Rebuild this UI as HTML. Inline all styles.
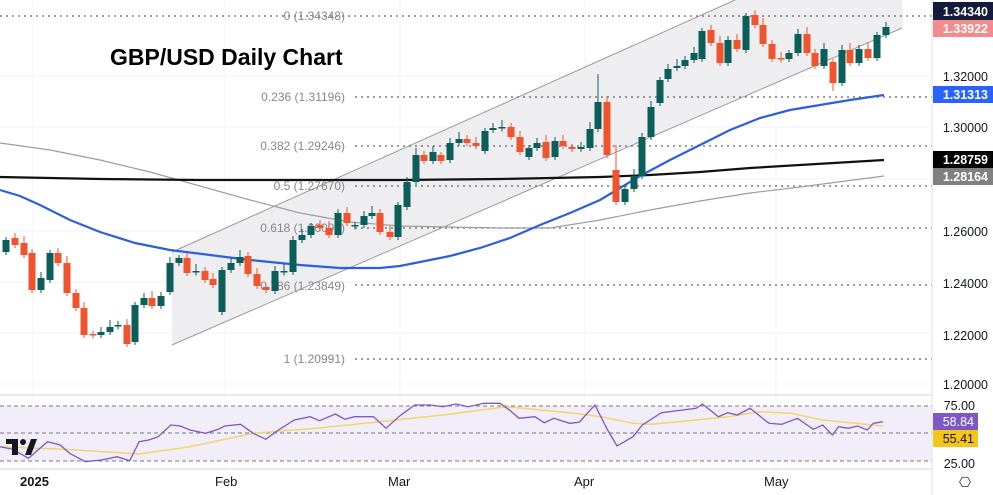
<!DOCTYPE html>
<html><head><meta charset="utf-8"><style>
html,body{margin:0;padding:0;background:#fff;}
svg{display:block;font-family:"Liberation Sans",sans-serif;}
</style></head><body>
<svg id="s" width="993" height="495" viewBox="0 0 993 495" xmlns="http://www.w3.org/2000/svg">
<rect width="993" height="495" fill="#fff"/>
<g stroke="#f0f3fa" stroke-width="1">
<line x1="33" y1="0" x2="33" y2="469"/><line x1="225" y1="0" x2="225" y2="469"/><line x1="400" y1="0" x2="400" y2="469"/><line x1="585" y1="0" x2="585" y2="469"/><line x1="776" y1="0" x2="776" y2="469"/>
<line x1="0" y1="76" x2="932" y2="76"/><line x1="0" y1="127" x2="932" y2="127"/><line x1="0" y1="179" x2="932" y2="179"/><line x1="0" y1="231" x2="932" y2="231"/><line x1="0" y1="282" x2="932" y2="282"/><line x1="0" y1="333" x2="932" y2="333"/><line x1="0" y1="384" x2="932" y2="384"/>
</g>
<polygon points="172,252 735,0 902,0 902,28 172,345" fill="#ebebef" opacity="0.85"/>
<line x1="172" y1="252" x2="735" y2="0" stroke="#9a9aa0" stroke-width="1"/>
<line x1="172" y1="345" x2="902" y2="28" stroke="#9a9aa0" stroke-width="1"/>
<g stroke="#787b86" stroke-width="1.6" stroke-dasharray="2,4">
<line x1="0" y1="16" x2="932" y2="16"/>
<line x1="355" y1="97" x2="932" y2="97"/>
<line x1="355" y1="146" x2="932" y2="146"/>
<line x1="355" y1="186" x2="932" y2="186"/>
<line x1="355" y1="228" x2="932" y2="228"/>
<line x1="355" y1="285" x2="932" y2="285"/>
<line x1="355" y1="359" x2="932" y2="359"/>
</g>
<g font-size="12" fill="#888" text-anchor="end">
<text x="345" y="20">0 (1.34348)</text>
<text x="345" y="101">0.236 (1.31196)</text>
<text x="345" y="150">0.382 (1.29246)</text>
<text x="345" y="190">0.5 (1.27670)</text>
<text x="345" y="232">0.618 (1.26097)</text>
<text x="345" y="290">0.786 (1.23849)</text>
<text x="345" y="363">1 (1.20991)</text>
</g>
<polyline fill="none" stroke="#9e9e9e" stroke-width="1.2" points="0,143 50,150 100,160 150,172 200,186 250,200 300,213 350,222 400,226 450,227 500,228 550,228 600,220 650,210 700,201 750,193 800,187 884,176"/>
<polyline fill="none" stroke="#111" stroke-width="2.2" points="0,177 100,179 200,180 300,180 400,180 500,179 600,177 650,175 700,172 750,168 800,165 884,160"/>
<polyline fill="none" stroke="#2c5fe0" stroke-width="2.2" points="0,190 20,196 40,205 70,220 100,232 135,243 170,250 210,255 250,260 300,265 340,268 380,268 400,266 420,262 450,256 480,248 510,238 540,225 570,213 600,200 620,188 640,176 670,160 700,145 730,130 760,118 790,110 820,105 850,100 884,95"/>
<g id="candles"></g>
<text x="110" y="65" font-size="23" font-weight="bold" fill="#000">GBP/USD Daily Chart</text>
<!-- RSI pane -->
<line x1="0" y1="395" x2="932" y2="395" stroke="#d1d4dc"/>
<rect x="0" y="406" width="932" height="55" fill="#f1eefa"/>
<g stroke="#787b86" stroke-dasharray="4,3" stroke-width="1">
<line x1="0" y1="406" x2="932" y2="406"/><line x1="0" y1="433" x2="932" y2="433"/><line x1="0" y1="461" x2="932" y2="461"/>
</g>
<polyline id="rsima" fill="none" stroke="#f2d56b" stroke-width="1.5"/>
<polyline id="rsi" fill="none" stroke="#7e57c2" stroke-width="1.3"/>
<line x1="0" y1="469" x2="932" y2="469" stroke="#d1d4dc"/>
<line x1="932" y1="0" x2="932" y2="495" stroke="#e0e3eb"/>
<!-- TV logo -->
<g transform="translate(6,439)"><rect x="0" y="0" width="12" height="5" fill="#131722"/><rect x="6" y="0" width="6" height="16" fill="#131722"/><circle cx="17" cy="3" r="3" fill="#131722"/><polygon points="19,16 25,0 31,0 25,16" fill="#131722"/></g>
<!-- date labels -->
<g font-size="13" fill="#131722">
<text x="20" y="486" font-weight="bold">2025</text>
<text x="215" y="486">Feb</text><text x="388" y="486">Mar</text><text x="574" y="486">Apr</text><text x="764" y="486">May</text>
</g>
<text x="965" y="487" font-size="14" fill="#333" text-anchor="middle">⎔</text>
<!-- right axis -->
<g font-size="12.5" fill="#131722" text-anchor="end">
<text x="988" y="81">1.32000</text><text x="988" y="132">1.30000</text><text x="988" y="236">1.26000</text><text x="988" y="288">1.24000</text><text x="988" y="340">1.22000</text><text x="988" y="389">1.20000</text>
<text x="975" y="410">75.00</text><text x="975" y="468">25.00</text>
</g>
<rect x="933" y="2" width="60" height="18" fill="#131a3a"/><text x="988" y="16" font-size="12.5" font-weight="bold" fill="#fff" text-anchor="end">1.34340</text>
<rect x="933" y="20" width="60" height="17" fill="#f28b8b"/><text x="988" y="33" font-size="12.5" font-weight="bold" fill="#fff" text-anchor="end">1.33922</text>
<rect x="933" y="86" width="60" height="17" fill="#2962ff"/><text x="988" y="99" font-size="12.5" font-weight="bold" fill="#fff" text-anchor="end">1.31313</text>
<rect x="933" y="151" width="60" height="17" fill="#000"/><text x="988" y="164" font-size="12.5" font-weight="bold" fill="#fff" text-anchor="end">1.28759</text>
<rect x="933" y="168" width="60" height="17" fill="#808080"/><text x="988" y="181" font-size="12.5" font-weight="bold" fill="#fff" text-anchor="end">1.28164</text>
<rect x="933" y="413" width="45" height="17" fill="#7e57c2"/><text x="974" y="426" font-size="12.5" fill="#fff" text-anchor="end">58.84</text>
<rect x="933" y="430" width="45" height="17" fill="#f5c518"/><text x="974" y="443" font-size="12.5" fill="#131722" text-anchor="end">55.41</text>
</svg>
<script>
var C=[[6,252,240],[15,238,245],[24,243,255],[32,253,290],[41,290,278],[50,280,253],[58,253,263],[67,263,293],[76,293,308],[84,308,335],[93,334,335],[101,335,332],[110,332,327],[118,326,325],[127,325,344],[135,342,305],[144,305,298],[152,298,306],[161,306,296],[170,292,263],[179,263,258],[187,258,273],[196,271,271],[205,271,280],[213,279,285],[222,312,270],[231,270,263],[240,263,257],[248,256,274],[257,274,286],[266,287,290],[275,291,271],[284,271,271],[293,272,240],[302,240,235],[311,235,226],[320,225,228],[329,228,235],[338,235,213],[347,213,223],[355,225,225],[364,225,216],[372,216,213],[380,213,232],[390,232,237],[398,237,205],[407,207,182],[416,182,155],[424,155,161],[433,161,152],[441,155,161],[450,160,143],[459,143,139],[467,139,143],[476,143,146],[485,151,131],[493,130,128],[502,128,127],[511,127,137],[520,137,152],[529,157,148],[537,148,143],[546,142,158],[555,157,141],[563,141,146],[572,147,149],[581,149,147],[590,148,129],[598,129,102,74],[607,102,155],[616,170,202,145],[625,202,189],[634,189,176],[642,176,137],[651,137,107],[660,103,80],[668,79,69],[677,68,66],[685,66,60],[694,60,53],[702,59,31],[711,30,43],[720,43,63],[728,63,40],[737,40,49],[746,50,16],[755,15,25],[763,25,44],[772,44,59],[781,58,59],[789,59,53],[798,53,34],[807,34,53],[815,53,66],[824,66,49],[833,62,83,null,91],[842,83,50],[850,50,63],[859,63,49],[868,49,58],[877,58,35],[886,35,27]];
var h='';C.forEach(function(c,i){var x=c[0],o=c[1],cl=c[2];var up=cl<=o;var col=up?'#0b5e5a':'#f0542f';var t=Math.min(o,cl),b=Math.max(o,cl);if(b-t<1.5){b=t+1.5;}var hi=c[3]!=null?c[3]:t-3-(i*7%5);var lo=c[4]!=null?c[4]:b+3+(i*5%5);h+='<line x1="'+x+'" y1="'+hi+'" x2="'+x+'" y2="'+lo+'" stroke="'+col+'" stroke-width="1"/>';h+='<rect x="'+(x-3.5)+'" y="'+t+'" width="7" height="'+(b-t)+'" fill="'+col+'"/>';});
document.getElementById('candles').innerHTML=h;
function cv(a){return a.map(function(p){return (p[0]/1.58).toFixed(1)+','+(390+p[1]/3).toFixed(1)}).join(' ');}
var r=[[0,170],[20,178],[45,205],[75,155],[95,165],[110,190],[135,215],[160,210],[185,200],[205,212],[220,155],[235,150],[250,140],[270,105],[285,108],[300,120],[325,130],[345,118],[355,108],[380,103],[400,130],[420,148],[440,120],[465,90],[490,80],[505,92],[530,72],[545,88],[560,80],[590,80],[610,115],[630,80],[655,45],[680,45],[700,50],[720,42],[740,50],[765,40],[790,40],[805,60],[820,85],[845,80],[860,98],[875,85],[900,100],[915,97],[940,45],[960,120],[975,168],[1000,140],[1015,105],[1045,68],[1100,55],[1110,42],[1135,80],[1150,68],[1165,75],[1185,55],[1215,100],[1235,103],[1260,85],[1285,118],[1300,105],[1315,135],[1325,110],[1340,115],[1355,108],[1370,120],[1380,100],[1395,95]];
var m=[[0,170],[100,178],[220,192],[300,170],[400,130],[500,115],[600,95],[700,75],[800,50],[900,68],[950,80],[1000,100],[1030,103],[1100,90],[1150,80],[1200,65],[1250,70],[1300,90],[1395,108]];
document.getElementById('rsi').setAttribute('points',cv(r));
document.getElementById('rsima').setAttribute('points',cv(m));
</script>
</body></html>
